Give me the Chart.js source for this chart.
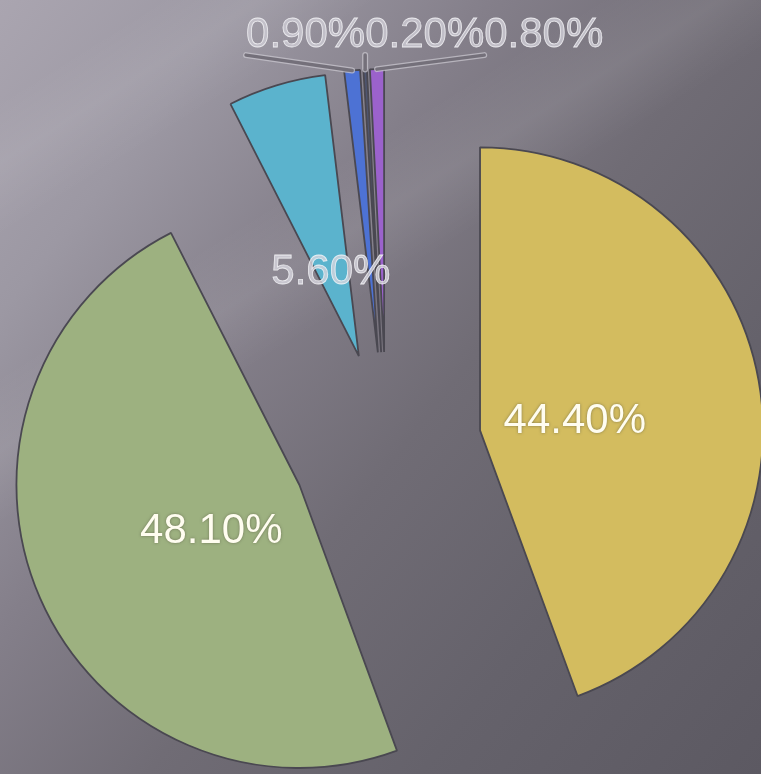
<!DOCTYPE html>
<html>
<head>
<meta charset="utf-8">
<title>Pie</title>
<script src="https://cdn.jsdelivr.net/npm/chart.js@4.4.1/dist/chart.umd.min.js"></script>
<style>
    html, body { margin: 0; padding: 0; }
    body {
        width: 761px;
        height: 774px;
        overflow: hidden;
        background:
            linear-gradient(148deg, rgba(255,255,255,0) 8%, rgba(255,255,255,0.07) 13%, rgba(255,255,255,0) 19%,
                rgba(255,255,255,0) 30%, rgba(255,255,255,0.08) 36%, rgba(255,255,255,0) 42%),
            linear-gradient(128deg, #aaa5b0 0%, #9c98a3 18%, #847f8a 36%, #706c75 55%, #65626b 75%, #5c5962 100%);
    }
    canvas { display: block; }
</style>
</head>
<body>
<canvas id="pie-chart" width="761" height="774"></canvas>
<script>
// --- DATA ---
const categories = ['Category 1', 'Category 2', 'Category 3', 'Category 4', 'Category 5', 'Category 6'];
const shares = [44.4, 48.1, 5.6, 0.9, 0.2, 0.8];
const shareLabels = ['44.40%', '48.10%', '5.60%', '0.90%', '0.20%', '0.80%'];

// --- STYLE ---
const sliceColors = ['#d3bc5f', '#9db180', '#5bb3cd', '#4d72d4', '#4f5670', '#9b62cc'];
const EXPLODE = 95;          // px each slice is pulled out from the centre
const SMALL_SHARE = 2;       // slices below this get their label in the top row
const LABEL_FONT = '42px "Liberation Sans", Arial, sans-serif';

// Pulls every slice out along its bisector (keeps the radius unchanged)
const explodePlugin = {
    id: 'explode',
    afterDatasetUpdate(chart) {
        chart.getDatasetMeta(0).data.forEach(arc => {
            const mid = (arc.startAngle + arc.endAngle) / 2;
            arc.x += Math.cos(mid) * EXPLODE;
            arc.y += Math.sin(mid) * EXPLODE;
        });
    }
};

// Percent labels: inside for big slices, a row with leader lines for tiny ones
const labelPlugin = {
    id: 'sliceLabels',
    afterDatasetsDraw(chart) {
        const ctx = chart.ctx;
        const arcs = chart.getDatasetMeta(0).data;
        ctx.save();
        ctx.font = LABEL_FONT;

        const small = [];
        arcs.forEach((arc, i) => {
            const mid = (arc.startAngle + arc.endAngle) / 2;
            const dx = Math.cos(mid), dy = Math.sin(mid);
            if (shares[i] < SMALL_SHARE) {
                small.push({ i, tipX: arc.x + dx * arc.outerRadius, tipY: arc.y + dy * arc.outerRadius });
                return;
            }
            const r = arc.outerRadius * 0.34;
            const x = arc.x + dx * r, y = arc.y + dy * r + 8;
            ctx.textAlign = 'center';
            ctx.textBaseline = 'middle';
            if (shares[i] > 20) {
                ctx.shadowColor = 'rgba(80, 78, 60, 0.6)';
                ctx.shadowBlur = 3;
                ctx.fillStyle = '#fffdf0';
                ctx.fillText(shareLabels[i], x, y);
                ctx.shadowBlur = 0;
            } else {
                ctx.fillStyle = 'rgba(215, 214, 222, 0.8)';
                ctx.fillText(shareLabels[i], x, y);
                ctx.strokeStyle = 'rgba(250, 250, 252, 0.8)';
                ctx.lineWidth = 0.8;
                ctx.strokeText(shareLabels[i], x, y);
            }
        });

        if (small.length) {
            // row of labels: the middle one starts right above its slice tip
            const widths = small.map(s => ctx.measureText(shareLabels[s.i]).width);
            const mid = Math.floor(small.length / 2);
            const rowY = Math.min(...small.map(s => s.tipY)) - 14;
            let left = small[mid].tipX;
            for (let k = mid - 1; k >= 0; k--) left -= widths[k];

            small.forEach((s, k) => {
                s.left = left;
                left += widths[k];
            });

            // leader lines
            ctx.lineCap = 'round';
            small.forEach(s => {
                ctx.beginPath();
                ctx.moveTo(s.left, rowY);
                ctx.lineTo(s.tipX, s.tipY);
                ctx.strokeStyle = 'rgba(200, 197, 206, 0.75)';
                ctx.lineWidth = 6;
                ctx.stroke();
                ctx.strokeStyle = '#74707a';
                ctx.lineWidth = 3.5;
                ctx.stroke();
            });

            ctx.textAlign = 'left';
            ctx.textBaseline = 'alphabetic';
            small.forEach(s => {
                ctx.fillStyle = 'rgba(200, 197, 206, 0.9)';
                ctx.fillText(shareLabels[s.i], s.left, rowY - 8);
                ctx.strokeStyle = 'rgba(250, 250, 252, 0.8)';
                ctx.lineWidth = 0.8;
                ctx.strokeText(shareLabels[s.i], s.left, rowY - 8);
            });
        }
        ctx.restore();
    }
};

const ctx = document.getElementById('pie-chart');
const pieChart = new Chart(ctx, {
    type: 'pie',
    data: {
        labels: categories,
        datasets: [{
            data: shares,
            backgroundColor: sliceColors,
            borderColor: '#4a4851',
            borderWidth: 1.8,
            clip: false
        }]
    },
    options: {
        responsive: false,
        animation: false,
        events: [],
        rotation: 0,
        radius: 283,
        layout: { padding: { left: 12, right: 0, top: 120, bottom: 0 } },
        plugins: {
            legend: { display: false },
            tooltip: { enabled: false }
        }
    },
    plugins: [explodePlugin, labelPlugin]
});
</script>
</body>
</html>
